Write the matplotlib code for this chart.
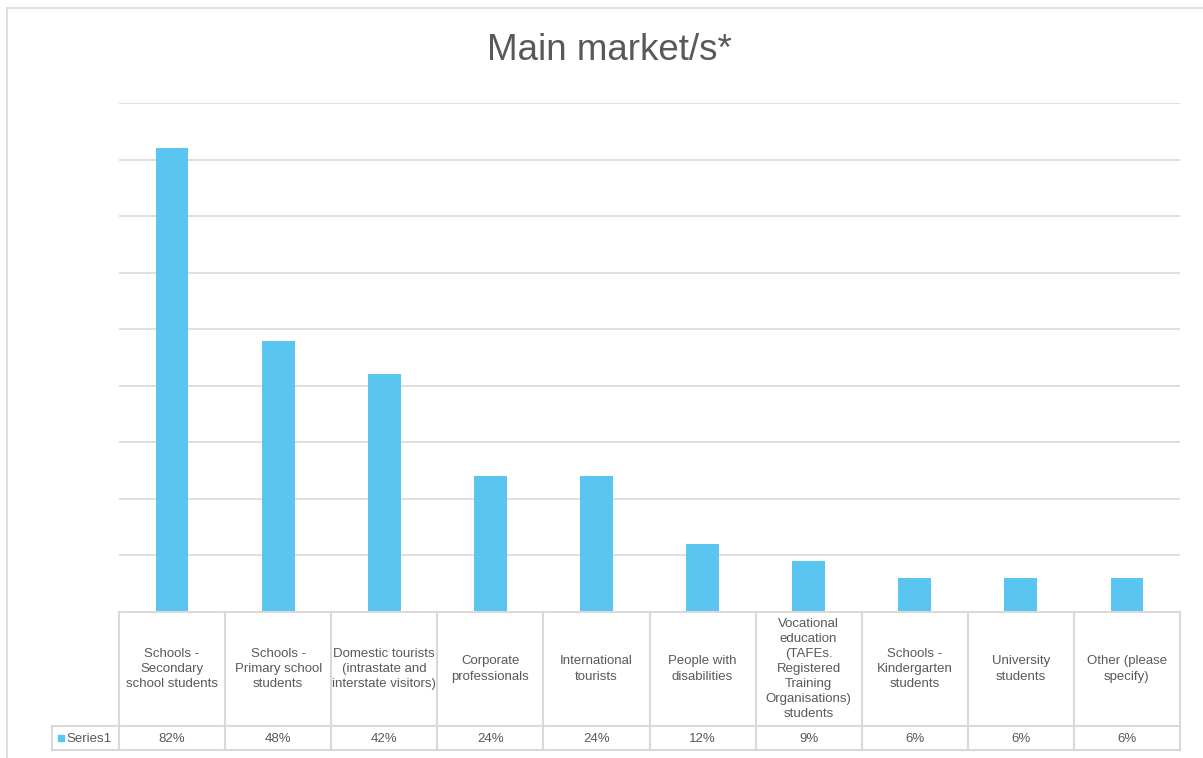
import matplotlib
matplotlib.use("Agg")
import matplotlib.pyplot as plt
from matplotlib.lines import Line2D
from matplotlib.patches import Rectangle

plt.rcParams['font.family'] = ['Liberation Sans', 'DejaVu Sans']

categories = [
    "Schools -\nSecondary\nschool students",
    "Schools -\nPrimary school\nstudents",
    "Domestic tourists\n(intrastate and\ninterstate visitors)",
    "Corporate\nprofessionals",
    "International\ntourists",
    "People with\ndisabilities",
    "Vocational\neducation\n(TAFEs.\nRegistered\nTraining\nOrganisations)\nstudents",
    "Schools -\nKindergarten\nstudents",
    "University\nstudents",
    "Other (please\nspecify)",
]
values = [0.82, 0.48, 0.42, 0.24, 0.24, 0.12, 0.09, 0.06, 0.06, 0.06]
series_name = "Series1"

W, H = 1203, 758
BAR = "#5BC5F2"
GRID = "#D9D9D9"
TXT = "#595959"

fig = plt.figure(figsize=(W / 100, H / 100), dpi=100)

def fx(px):
    return px / W

def fy(py):
    return 1 - py / H

# chart frame
fig.add_artist(Line2D([fx(7), fx(7)], [fy(8), 0], color=GRID, lw=1.2))
fig.add_artist(Line2D([fx(7), 1], [fy(8), fy(8)], color=GRID, lw=1.2))

left, right, top, bottom = 119, 1180, 103, 612
ax = fig.add_axes([fx(left), fy(bottom), fx(right) - fx(left), fy(top) - fy(bottom)])
n = len(categories)
x = list(range(n))
ax.bar(x, values, width=0.31, color=BAR, zorder=3)
ax.set_xlim(-0.5, n - 0.5)
ax.set_ylim(0, 0.9)
ax.set_yticks([i / 10 for i in range(1, 10)])
ax.yaxis.grid(True, color=GRID, lw=1.2, zorder=0)
ax.tick_params(left=False, bottom=False, labelleft=False, labelbottom=False)
for s in ax.spines.values():
    s.set_visible(False)

fig.text(fx(609), fy(51), "Main market/s*", ha="center", va="center",
         fontsize=26.5, color=TXT)

# data table beneath the plot
col_w = (right - left) / n
row1_bot, row2_bot = 726, 750
leg_left = 52

def hline(y, x0, x1):
    fig.add_artist(Line2D([fx(x0), fx(x1)], [fy(y), fy(y)], color=GRID, lw=1.5))

def vline(xp, y0, y1):
    fig.add_artist(Line2D([fx(xp), fx(xp)], [fy(y0), fy(y1)], color=GRID, lw=1.5))

hline(bottom, left, right)
hline(row1_bot, leg_left, right)
hline(row2_bot, leg_left, right)
vline(leg_left, row1_bot, row2_bot)
for i in range(n + 1):
    vline(left + i * col_w, bottom, row2_bot)

for i, (cat, v) in enumerate(zip(categories, values)):
    cx = left + (i + 0.5) * col_w
    fig.text(fx(cx), fy((bottom + row1_bot) / 2), cat, ha="center", va="center",
             fontsize=9.5, color=TXT, linespacing=1.35)
    fig.text(fx(cx), fy((row1_bot + row2_bot) / 2 + 1), f"{round(v * 100)}%",
             ha="center", va="center", fontsize=9.5, color=TXT)

fig.add_artist(Rectangle((fx(58), fy(741)), fx(6), 6 / H, color=BAR))
fig.text(fx(66), fy((row1_bot + row2_bot) / 2 + 1), series_name, ha="left",
         va="center", fontsize=9.5, color=TXT)

fig.savefig("out.png", dpi=100)
